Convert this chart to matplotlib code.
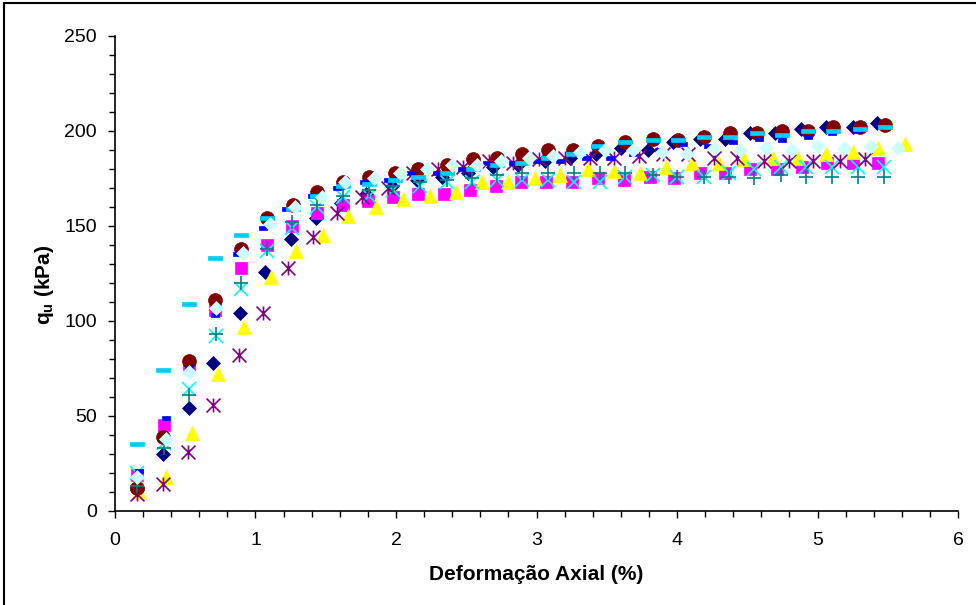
import matplotlib
matplotlib.use("Agg")
import matplotlib.pyplot as plt
from matplotlib.path import Path
from matplotlib.patches import Rectangle
from matplotlib.ticker import MultipleLocator

plt.rcParams['font.family'] = ['Liberation Sans', 'DejaVu Sans']
plt.rcParams['mathtext.fontset'] = 'custom'
plt.rcParams['mathtext.rm'] = 'Liberation Sans'
plt.rcParams['mathtext.bf'] = 'Liberation Sans:bold'

# deformação axial (%) e q_u (kPa) de cada corpo de prova
eps_cp1 = [0.16, 0.34, 0.53, 0.70, 0.89, 1.07, 1.25, 1.43, 1.61, 1.79, 1.97, 2.15, 2.33, 2.51, 2.69,
           2.87, 3.06, 3.24, 3.42, 3.60, 3.79, 3.97, 4.16, 4.34, 4.52, 4.70, 4.88, 5.06, 5.25, 5.42]
qu_cp1 = [11, 30, 54, 78, 104, 126, 143, 154, 162, 167, 171, 174, 176, 178, 181,
          182, 184, 186, 188, 191, 190, 194, 196, 196, 199, 199, 201, 202, 202, 204]

eps_cp2 = [0.16, 0.35, 0.53, 0.71, 0.90, 1.08, 1.26, 1.44, 1.62, 1.80, 1.98, 2.16, 2.34, 2.53, 2.71,
           2.89, 3.07, 3.25, 3.44, 3.62, 3.81, 3.98, 4.16, 4.34, 4.52, 4.71, 4.89, 5.07, 5.25, 5.43]
qu_cp2 = [19, 45, 76, 106, 128, 140, 150, 157, 161, 163, 165, 167, 167, 169, 171,
          173, 173, 173, 175, 174, 176, 175, 178, 178, 180, 180, 181, 183, 183, 183]

eps_cp3 = [0.17, 0.36, 0.55, 0.73, 0.92, 1.11, 1.29, 1.48, 1.66, 1.86, 2.05, 2.24, 2.43, 2.61, 2.80,
           2.99, 3.17, 3.37, 3.55, 3.74, 3.92, 4.11, 4.30, 4.48, 4.68, 4.86, 5.06, 5.25, 5.43, 5.62]
qu_cp3 = [10, 18, 41, 72, 97, 123, 137, 145, 155, 160, 164, 166, 168, 173, 173,
          175, 177, 180, 179, 178, 181, 183, 183, 185, 186, 186, 188, 189, 191, 193]

eps_cp4 = [0.16, 0.35, 0.53, 0.72, 0.90, 1.08, 1.26, 1.44, 1.62, 1.81, 1.98, 2.17, 2.36, 2.54, 2.72,
           2.90, 3.08, 3.27, 3.45, 3.63, 3.83, 4.00, 4.19, 4.37, 4.55, 4.74, 4.92, 5.10, 5.29, 5.47]
qu_cp4 = [20, 36, 64, 92, 117, 137, 149, 160, 165, 166, 169, 171, 173, 173, 174,
          174, 174, 173, 173, 176, 177, 176, 176, 178, 180, 181, 181, 181, 181, 181]

eps_cp5 = [0.16, 0.34, 0.52, 0.70, 0.88, 1.05, 1.23, 1.41, 1.58, 1.76, 1.94, 2.12, 2.30, 2.48, 2.66,
           2.83, 3.02, 3.20, 3.38, 3.55, 3.73, 3.90, 4.08, 4.26, 4.43, 4.62, 4.80, 4.97, 5.16, 5.34]
qu_cp5 = [9, 14, 31, 56, 82, 104, 128, 144, 157, 165, 170, 178, 180, 181, 184,
          183, 185, 186, 186, 186, 187, 188, 188, 186, 186, 184, 184, 184, 184, 185]

eps_cp6 = [0.16, 0.34, 0.53, 0.71, 0.90, 1.08, 1.27, 1.44, 1.62, 1.81, 1.99, 2.16, 2.36, 2.55, 2.72,
           2.90, 3.08, 3.26, 3.44, 3.63, 3.83, 4.01, 4.19, 4.38, 4.57, 4.75, 4.93, 5.11, 5.30, 5.48]
qu_cp6 = [12, 39, 79, 111, 138, 154, 161, 168, 173, 176, 178, 180, 182, 185, 186,
          188, 190, 190, 192, 194, 196, 195, 197, 199, 199, 200, 200, 202, 202, 203]

qu_cp7 = [13, 33, 61, 93, 120, 138, 152, 161, 166, 169, 171, 173, 174, 175, 177,
          178, 178, 178, 178, 178, 177, 176, 176, 176, 175, 177, 176, 176, 176, 176]

eps_cp8 = [0.17, 0.36, 0.53, 0.71, 0.87, 1.05, 1.22, 1.40, 1.58, 1.77, 1.94, 2.11, 2.29, 2.47, 2.65,
           2.83, 3.00, 3.17, 3.35, 3.52, 3.69, 3.87, 4.04, 4.22, 4.40, 4.58, 4.75, 4.93, 5.10, 5.28]
qu_cp8 = [21, 49, 76, 103, 135, 149, 159, 166, 170, 173, 174, 178, 178, 180, 183,
          183, 184, 184, 186, 186, 188, 190, 193, 192, 194, 196, 195, 197, 199, 200]

qu_cp9 = [35, 74, 109, 133, 145, 154, 159, 166, 171, 172, 174, 176, 178, 180, 182,
          183, 186, 188, 192, 194, 195, 195, 197, 197, 199, 198, 200, 200, 201, 202]

eps_cp10 = [0.16, 0.36, 0.53, 0.72, 0.91, 1.10, 1.28, 1.47, 1.64, 1.84, 2.03, 2.22, 2.40, 2.58, 2.75,
            2.95, 3.12, 3.31, 3.49, 3.69, 3.89, 4.07, 4.26, 4.45, 4.63, 4.82, 5.00, 5.19, 5.38, 5.57]
qu_cp10 = [18, 38, 73, 107, 136, 151, 160, 165, 173, 175, 178, 180, 182, 182, 184,
           186, 187, 189, 190, 190, 189, 188, 191, 190, 191, 190, 192, 191, 192, 191]

# marcadores do Excel: asterisco e traços
star = Path([(-1, -1), (1, 1), (-1, 1), (1, -1), (0, -1), (0, 1)],
            [Path.MOVETO, Path.LINETO, Path.MOVETO, Path.LINETO, Path.MOVETO, Path.LINETO])
dash_long = Path([(-1, -0.28), (1, -0.28), (1, 0.28), (-1, 0.28), (-1, -0.28)], closed=True)
dash_short = Path([(-1, -0.55), (1, -0.55), (1, 0.55), (-1, 0.55), (-1, -0.55)], closed=True)

series = [
    (eps_cp1, qu_cp1, 'D', '#000080', 7.2, True),
    (eps_cp2, qu_cp2, 's', '#FF00FF', 9.3, True),
    (eps_cp3, qu_cp3, '^', '#FFFF00', 10, True),
    (eps_cp4, qu_cp4, 'x', '#00FFFF', 9.5, False),
    (eps_cp5, qu_cp5, star, '#800080', 10, False),
    (eps_cp6, qu_cp6, 'o', '#800000', 10, True),
    (eps_cp4, qu_cp7, '+', '#008080', 10.5, False),
    (eps_cp8, qu_cp8, dash_short, '#0000FF', 5.5, True),
    (eps_cp6, qu_cp9, dash_long, '#00CCFF', 10.5, True),
    (eps_cp10, qu_cp10, 'D', '#CCFFFF', 7.2, True),
]

fig = plt.figure(figsize=(9.76, 6.05), dpi=100)
ax = fig.add_axes([0.1178, 0.1554, 0.8638, 0.7851])

for eps, qu, mk, cor, ms, cheio in series:
    if cheio:
        ax.plot(eps, qu, linestyle='none', marker=mk, markersize=ms,
                markerfacecolor=cor, markeredgecolor=cor, markeredgewidth=0.5)
    else:
        ax.plot(eps, qu, linestyle='none', marker=mk, markersize=ms,
                color=cor, markeredgewidth=1.2)

ax.set_xlim(0, 6)
ax.set_ylim(0, 250)
ax.xaxis.set_major_locator(MultipleLocator(1))
ax.xaxis.set_minor_locator(MultipleLocator(0.2))
ax.yaxis.set_major_locator(MultipleLocator(50))
ax.yaxis.set_minor_locator(MultipleLocator(10))
ax.tick_params(which='major', direction='out', length=5, width=1, labelsize=14, pad=8)
ax.tick_params(which='minor', direction='out', length=4, width=1)
ax.tick_params(axis='x', pad=10)

for lado in ['top', 'right']:
    ax.spines[lado].set_visible(False)
for lado in ['left', 'bottom']:
    ax.spines[lado].set_linewidth(1.2)

ax.set_xlabel('Deformação Axial (%)', fontsize=15, fontweight='bold', labelpad=12)
ax.set_ylabel(r'q$_\mathbf{u}$ (kPa)', fontsize=15, fontweight='bold')
ax.yaxis.set_label_coords(-0.070, 0.476)

# moldura da área do gráfico
fig.add_artist(Rectangle((4 / 976, -0.05), 1.1, 1.05 - 3 / 605, transform=fig.transFigure,
                         fill=False, edgecolor='black', linewidth=1.5))

fig.savefig('out.png', dpi=100)
